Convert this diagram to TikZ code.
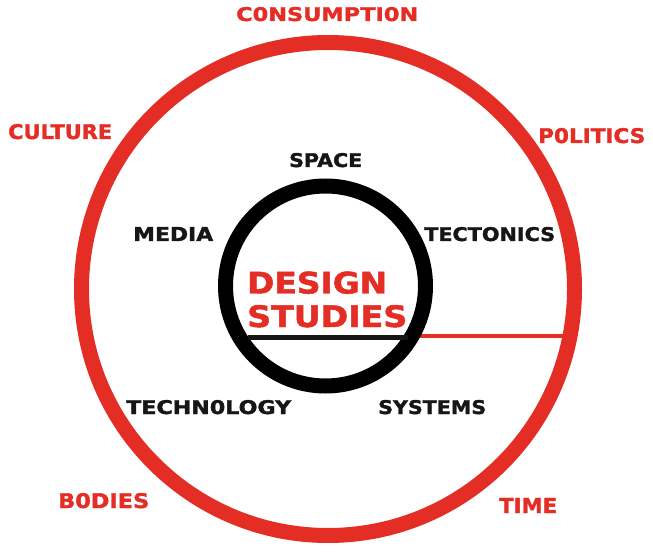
\documentclass[tikz,border=0pt]{standalone}
\usepackage{fontspec}
\setmainfont{DejaVu Sans}[BoldFeatures={FakeBold=1.6}]
\usepackage{graphicx}
\definecolor{dsred}{RGB}{228,45,36}
\definecolor{dsblack}{RGB}{22,22,22}
\newcommand{\lbl}[3]{\resizebox{#1pt}{#2pt}{\bfseries #3}}
\tikzset{
  lab/.style={inner sep=0pt, anchor=base west},
  redlab/.style={lab, text=dsred},
  blacklab/.style={lab, text=dsblack},
  ring/.style={circle, inner sep=0pt, line width=15pt},
}
\begin{document}
\begin{tikzpicture}[x=1pt,y=-1pt]
\useasboundingbox (0,0) rectangle (653,553);
% rings
\node[ring, draw=dsred, minimum size=493pt] (outer) at (328,289) {};
\coordinate (redend) at (570,336.5);
\node[ring, draw=none, minimum size=200pt] (innerpos) at (325.5,286) {};
\draw[dsred, line width=4pt] (innerpos.-28) -- (innerpos.-28 -| redend);
\node[ring, draw=black, minimum size=200pt] (inner) at (325.5,286) {};
% underline
\coordinate (ul1) at (248,337.5);
\coordinate (ul2) at (408,337.5);
\draw[dsblack, line width=5pt] (ul1) -- (ul2);
% centre title
\node[redlab] (design) at (247,293.5) {\lbl{140}{22}{DESIGN}};
\node[redlab] (studies) at (247,327) {\lbl{160}{22}{STUDIES}};
% outer labels
\node[redlab] (consumption) at (236,21) {\lbl{182}{14}{C0NSUMPTI0N}};
\node[redlab] (culture) at (8,139) {\lbl{104}{15}{CULTURE}};
\node[redlab] (politics) at (538,143) {\lbl{107}{15}{P0LITICS}};
\node[redlab] (bodies) at (58,508) {\lbl{91}{15}{B0DIES}};
\node[redlab] (time) at (499,513) {\lbl{58}{15}{TIME}};
% inner labels
\node[blacklab] (space) at (289,167) {\lbl{73}{14}{SPACE}};
\node[blacklab] (media) at (133,241) {\lbl{80}{14}{MEDIA}};
\node[blacklab] (tectonics) at (424,241) {\lbl{131}{14}{TECTONICS}};
\node[blacklab] (technology) at (126,414) {\lbl{165}{14}{TECHN0LOGY}};
\node[blacklab] (systems) at (378,414) {\lbl{108}{14}{SYSTEMS}};
\end{tikzpicture}
\end{document}
